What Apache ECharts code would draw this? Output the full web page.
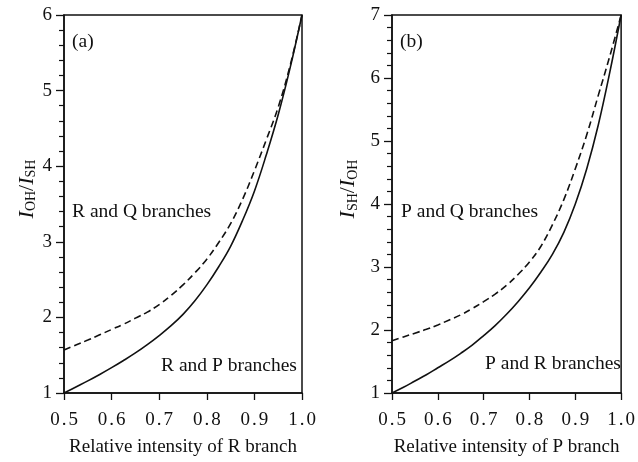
<!DOCTYPE html>
<html>
<head>
<meta charset="utf-8">
<script src="https://cdn.jsdelivr.net/npm/echarts@6/dist/echarts.min.js"></script>
<style>
  html, body { margin: 0; padding: 0; background: #fff; }
  #chart { width: 638px; height: 462px; }
</style>
</head>
<body>
<div id="chart"></div>
<script>
// relative intensity (x) shared by both panels
var xs = [0.5, 0.525, 0.55, 0.575, 0.6, 0.625, 0.65, 0.675, 0.7, 0.725, 0.75,
          0.775, 0.8, 0.825, 0.85, 0.875, 0.9, 0.925, 0.95, 0.975, 1.0]

// panel (a): I_OH/I_SH
var solidA  = [1.0, 1.08, 1.16, 1.245, 1.335, 1.43, 1.53, 1.64, 1.76, 1.89, 2.04,
               2.22, 2.43, 2.67, 2.94, 3.28, 3.67, 4.15, 4.68, 5.3, 6.0]
var dashedA = [1.57, 1.635, 1.70, 1.77, 1.84, 1.91, 1.99, 2.07, 2.17, 2.29, 2.43,
               2.59, 2.77, 2.99, 3.24, 3.56, 3.94, 4.35, 4.78, 5.33, 6.0]

// panel (b): I_SH/I_OH
var solidB  = [1.0, 1.09, 1.19, 1.29, 1.40, 1.51, 1.63, 1.76, 1.91, 2.07, 2.25,
               2.45, 2.67, 2.92, 3.2, 3.55, 4.0, 4.56, 5.25, 6.08, 7.0]
var dashedB = [1.83, 1.89, 1.95, 2.01, 2.08, 2.16, 2.24, 2.34, 2.45, 2.57, 2.71,
               2.88, 3.08, 3.33, 3.67, 4.07, 4.56, 5.1, 5.72, 6.34, 7.0]

var xNames = ['Relative intensity of R branch', 'Relative intensity of P branch']
var panelTags = ['(a)', '(b)']
var upperNotes = ['R and Q branches', 'P and Q branches']
var lowerNotes = ['R and P branches', 'P and R branches']

var serif = '"Liberation Serif", "DejaVu Serif", serif'
var ink = '#111'

function pairs(ys) {
  return xs.map(function (x, i) { return [x, ys[i]] })
}

function xAxisOf(idx) {
  return {
    type: 'value', gridIndex: idx, min: 0.5, max: 1.0, interval: 0.1,
    name: xNames[idx], nameLocation: 'middle', nameGap: 45,
    nameTextStyle: { fontFamily: serif, fontSize: 19, color: ink },
    axisLine: { lineStyle: { color: ink, width: 1.5 } },
    axisTick: { length: 7, lineStyle: { color: ink, width: 1.3 } },
    axisLabel: {
      color: ink, margin: 18,
      formatter: function (v) {
        var s = v.toFixed(1).split('.')
        return '{n|' + s[0] + '}{d|.}{n|' + s[1] + '}'
      },
      rich: {
        n: { fontFamily: serif, fontSize: 19, color: ink },
        d: { fontFamily: serif, fontSize: 19, color: ink, padding: [0, 2, 0, 2] }
      }
    },
    splitLine: { show: false }
  }
}

function yAxisOf(idx, max, gap, top, bot) {
  return {
    type: 'value', gridIndex: idx, min: 1, max: max, interval: 1,
    name: '{i|I}{s|' + top + '}{t|/}{i|I}{s|' + bot + '}',
    nameLocation: 'middle', nameGap: gap,
    nameTextStyle: {
      padding: [0, 0, 0, 30],
      rich: {
        i: { fontFamily: serif, fontStyle: 'italic', fontSize: 22, color: ink },
        t: { fontFamily: serif, fontSize: 22, color: ink },
        s: { fontFamily: serif, fontSize: 14, color: ink, padding: [9, 0, 0, 0] }
      }
    },
    axisLine: { lineStyle: { color: ink, width: 1.5 } },
    axisTick: { length: 8, lineStyle: { color: ink, width: 1.3 } },
    minorTick: { show: true, splitNumber: 5, length: 5, lineStyle: { color: ink, width: 1.2 } },
    axisLabel: { fontFamily: serif, fontSize: 19, color: ink, margin: 12 },
    splitLine: { show: false }
  }
}

function note(text, left, top) {
  return {
    type: 'text', left: left, top: top,
    style: { text: text, font: '19.5px ' + serif, fill: ink }
  }
}

function curve(idx, ys, dashed) {
  return {
    type: 'line', xAxisIndex: idx, yAxisIndex: idx, data: pairs(ys),
    smooth: 0.4, showSymbol: false,
    lineStyle: { color: ink, width: 1.6, type: dashed ? [7, 4] : 'solid' }
  }
}

var myChart = echarts.init(document.getElementById('chart'))
myChart.setOption({
  backgroundColor: '#fff',
  animation: false,
  grid: [
    { left: 64, right: 336, top: 15, bottom: 62, show: true, borderColor: ink, borderWidth: 1.5 },
    { left: 392, right: 14, top: 15, bottom: 66, show: true, borderColor: ink, borderWidth: 1.5 }
  ],
  xAxis: [xAxisOf(0), xAxisOf(1)],
  yAxis: [yAxisOf(0, 6, 24, 'OH', 'SH'), yAxisOf(1, 7, 32, 'SH', 'OH')],
  series: [
    curve(0, solidA, false),
    curve(0, dashedA, true),
    curve(1, solidB, false),
    curve(1, dashedB, true)
  ],
  graphic: [
    note(panelTags[0], 72, 32),
    note(upperNotes[0], 72, 202),
    note(lowerNotes[0], 161, 356),
    note(panelTags[1], 400, 32),
    note(upperNotes[1], 401, 202),
    note(lowerNotes[1], 485, 354)
  ]
})
</script>
</body>
</html>
